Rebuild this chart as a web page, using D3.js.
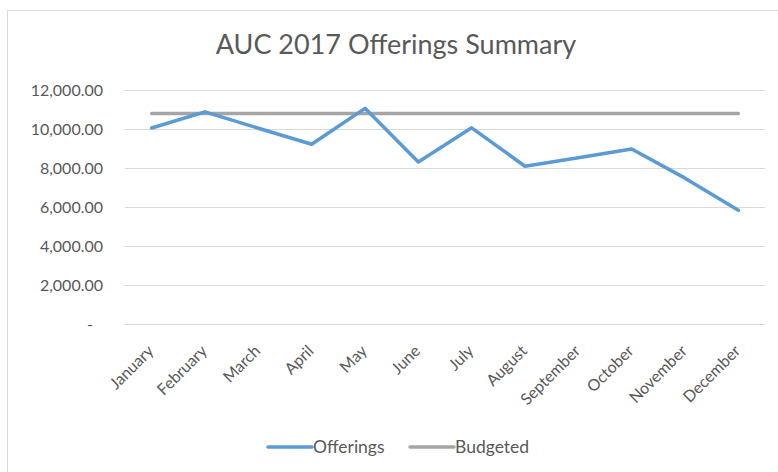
<!DOCTYPE html>
<html>
<head>
<meta charset="utf-8">
<script src="https://cdn.jsdelivr.net/npm/d3@7"></script>
<style>
  body { margin: 0; background: #fff; }
  text { font-family: Lato, "Open Sans", sans-serif; fill: #595959; }
</style>
</head>
<body>
<div id="chart"></div>
<script>
const months = ["January", "February", "March", "April", "May", "June", "July",
  "August", "September", "October", "November", "December"];
const offerings = [10050, 10880, 10040, 9220, 11060, 8310, 10060, 8090, 8530, 8970, 7480, 5830];
const budgeted = [10800, 10800, 10800, 10800, 10800, 10800, 10800, 10800, 10800, 10800, 10800, 10800];
const yTicks = [0, 2000, 4000, 6000, 8000, 10000, 12000];
const seriesNames = ["Offerings", "Budgeted"];
const seriesColors = ["#5B9BD5", "#A5A5A5"];

let width = 778, height = 472;
let margin = { left: 125, right: 13, top: 90, bottom: 148 };
let font = "Lato, sans-serif";

let svg = d3.select("#chart").append("svg")
  .attr("width", width)
  .attr("height", height);

// chart area border (right / bottom edges fall outside the picture)
svg.append("rect")
  .attr("x", 7.5).attr("y", 10.5)
  .attr("width", width).attr("height", height)
  .attr("fill", "none")
  .attr("stroke", "#d9d9d9");

svg.append("text")
  .attr("x", 396).attr("y", 54)
  .attr("text-anchor", "middle")
  .attr("font-size", "27px")
  .text("AUC 2017 Offerings Summary");

let x = d3.scaleBand()
  .domain(months)
  .range([margin.left, width - margin.right]);

let y = d3.scaleLinear()
  .domain([0, 12000])
  .range([height - margin.bottom, margin.top]);

// gridlines
svg.append("g")
  .selectAll("line")
  .data(yTicks)
  .enter()
  .append("line")
  .attr("x1", margin.left)
  .attr("x2", width - margin.right)
  .attr("y1", d => Math.round(y(d)) + 0.5)
  .attr("y2", d => Math.round(y(d)) + 0.5)
  .attr("stroke", "#d9d9d9")
  .attr("stroke-width", 1);

let yAxis = svg.append("g")
  .attr("transform", "translate(106,0)")
  .call(d3.axisLeft(y).tickValues(yTicks).tickSize(0)
    .tickFormat(d => d === 0 ? "-" : d3.format(",.2f")(d)));
yAxis.select(".domain").remove();
yAxis.selectAll("text")
  .attr("font-size", "16px")
  .attr("fill", "#595959")
  .attr("font-family", font)
  .attr("dx", d => d === 0 ? -10 : 0);

let xAxis = svg.append("g")
  .attr("transform", "translate(0," + (height - margin.bottom) + ")")
  .call(d3.axisBottom(x).tickSize(0));
xAxis.select(".domain").remove();
xAxis.selectAll("text")
  .attr("font-size", "16px")
  .attr("fill", "#595959")
  .attr("font-family", font)
  .attr("text-anchor", "end")
  .attr("y", 0)
  .attr("dy", 0)
  .attr("transform", "translate(3,28) rotate(-45)");

let line = d3.line()
  .x((d, i) => x(months[i]) + x.bandwidth() / 2)
  .y(d => y(d));

// budgeted first so offerings sits on top
[budgeted, offerings].forEach((vals, k) => {
  svg.append("path")
    .datum(vals)
    .attr("fill", "none")
    .attr("stroke", seriesColors[1 - k])
    .attr("stroke-width", 3.5)
    .attr("stroke-linejoin", "round")
    .attr("stroke-linecap", "round")
    .attr("d", line);
});

let legend = svg.append("g");
let legX = [268, 410];
seriesNames.forEach((name, k) => {
  legend.append("line")
    .attr("x1", legX[k]).attr("x2", legX[k] + 44)
    .attr("y1", 447).attr("y2", 447)
    .attr("stroke", seriesColors[k])
    .attr("stroke-width", 3.5)
    .attr("stroke-linecap", "round");
  legend.append("text")
    .attr("x", legX[k] + 45).attr("y", 453)
    .attr("font-size", "17.5px")
    .text(name);
});
</script>
</body>
</html>
